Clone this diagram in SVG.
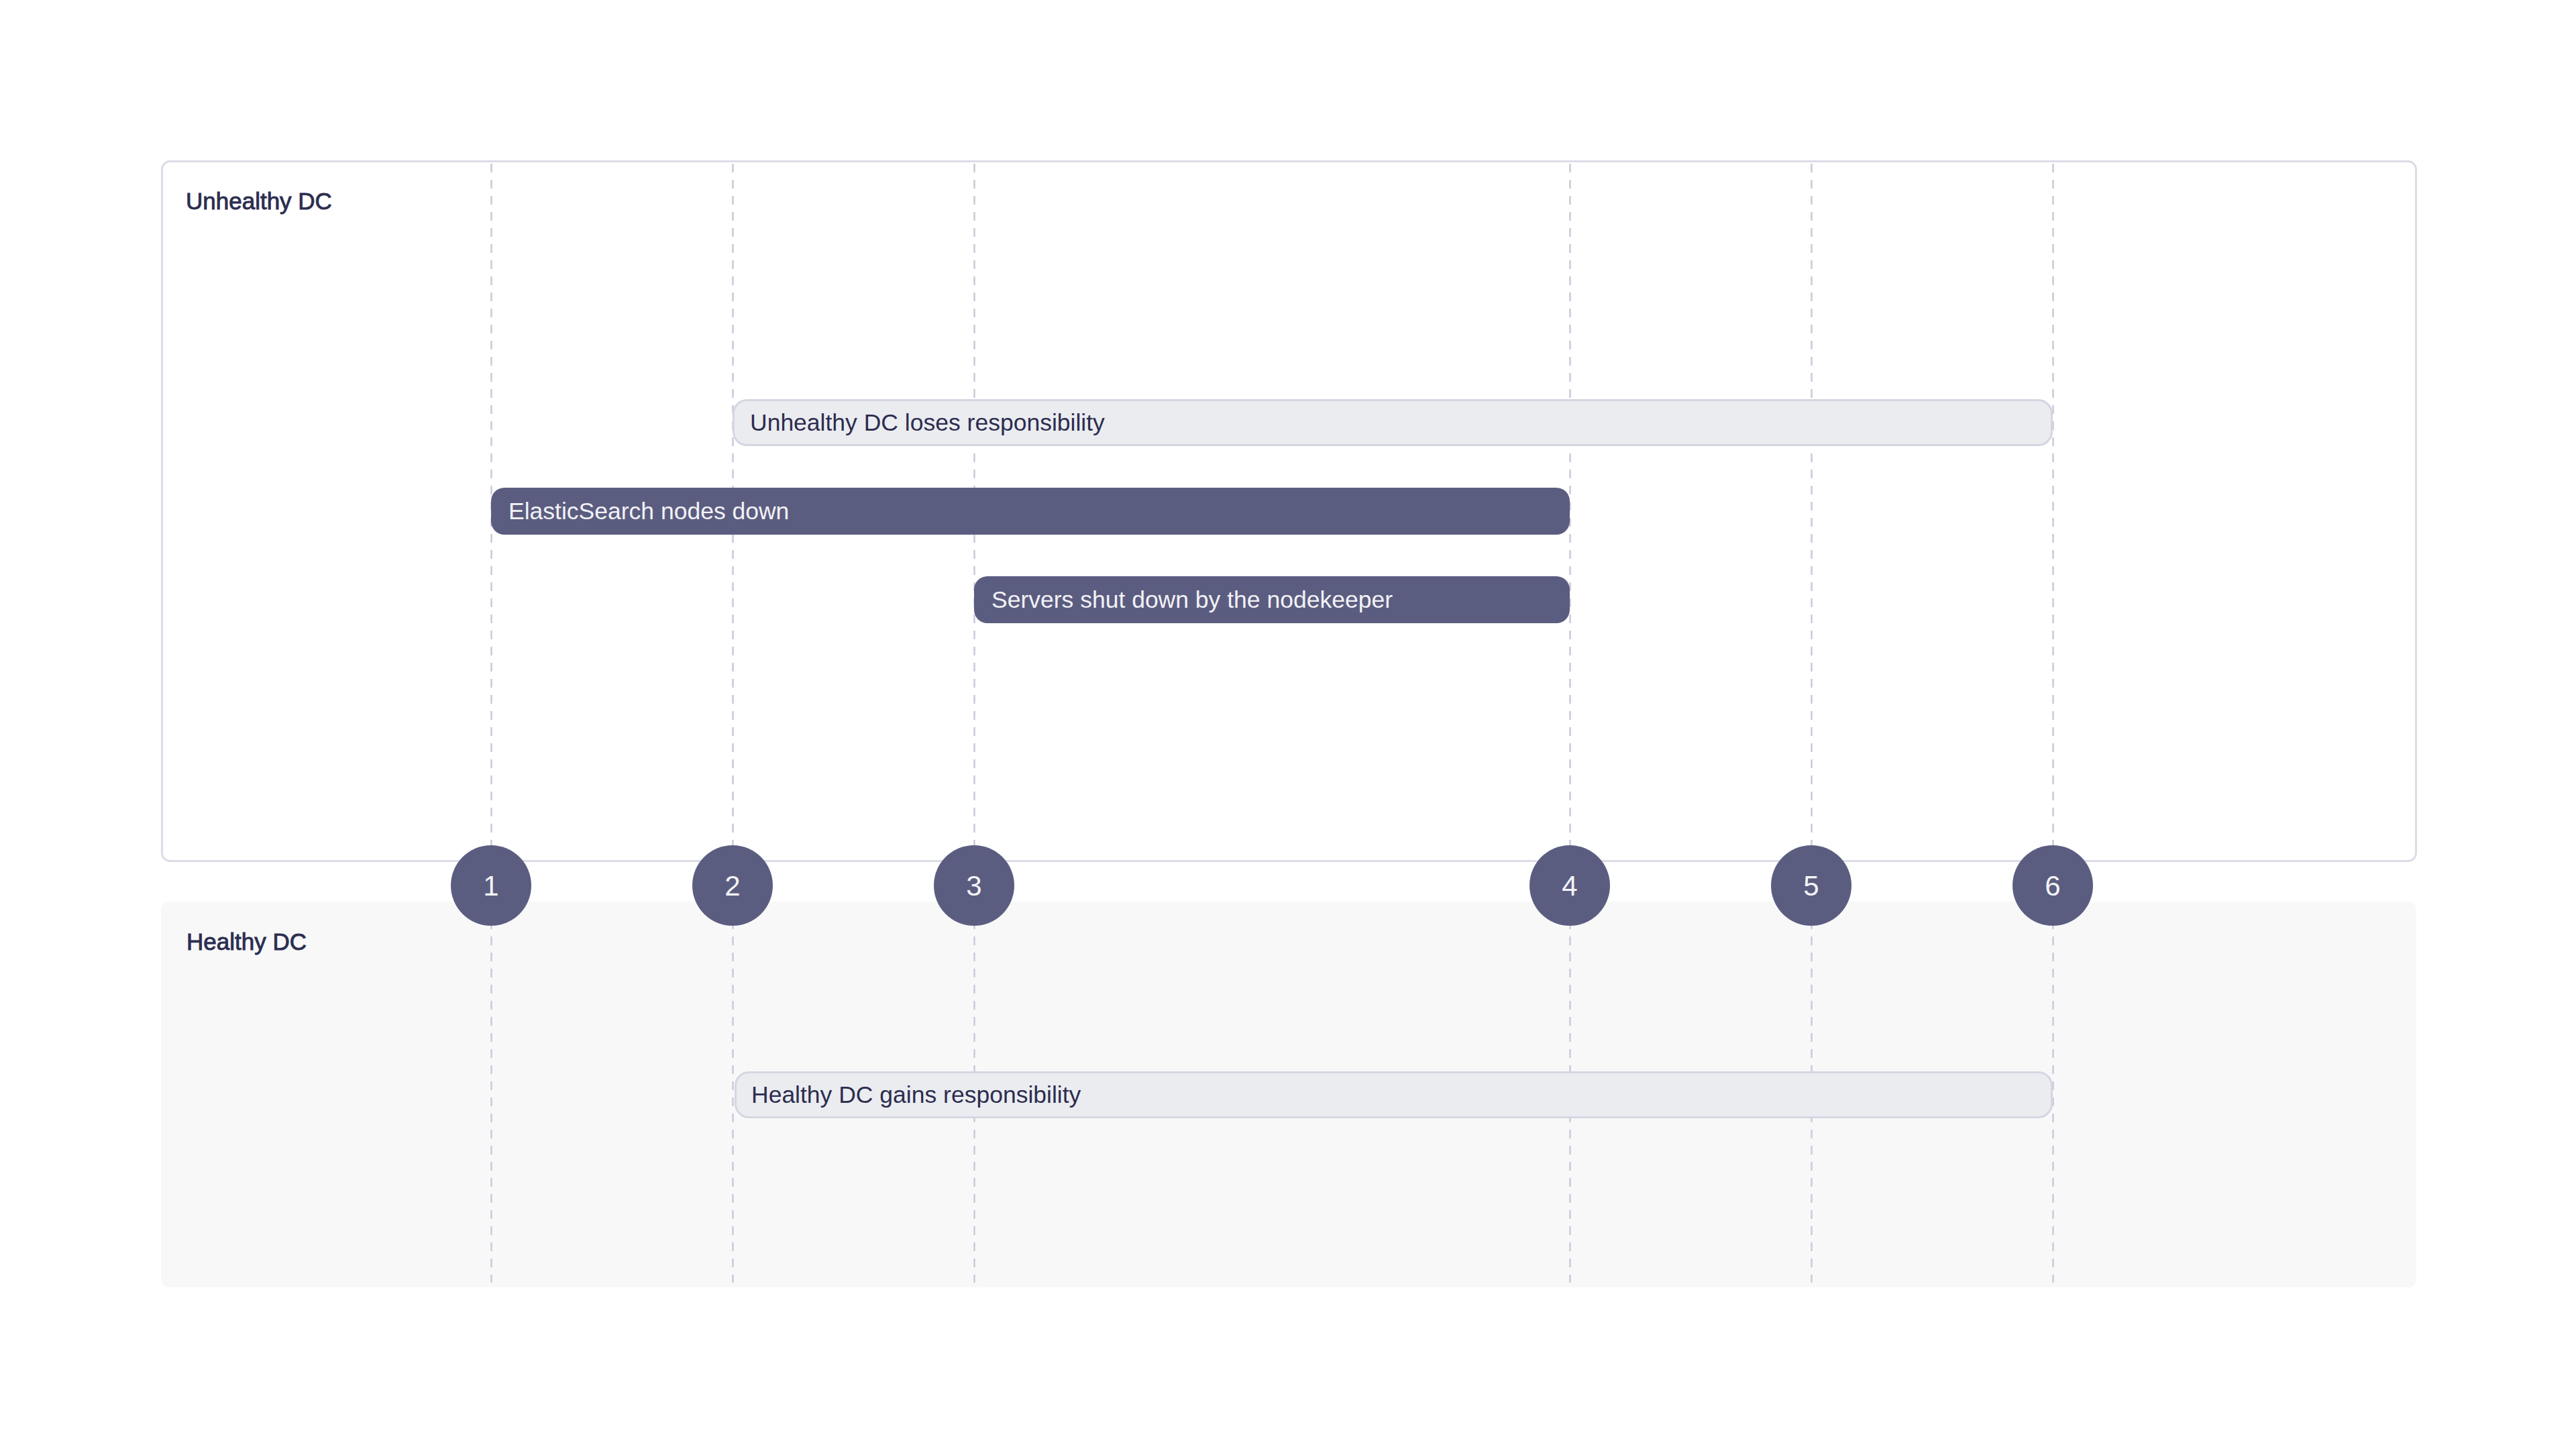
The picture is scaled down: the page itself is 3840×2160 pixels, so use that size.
<svg xmlns="http://www.w3.org/2000/svg" width="3840" height="2160" viewBox="0 0 3840 2160">
<style>
.bg{fill:#ffffff}
.lane-u{fill:#ffffff;stroke:#dcdce7;stroke-width:3}
.lane-h{fill:#f8f8f9}
.title{font-family:"Liberation Sans",Arial,sans-serif;font-size:35px;font-weight:400;fill:#2c2d4f;stroke:#2c2d4f;stroke-width:0.9px}
.guide{stroke:#c9cad9;stroke-width:2.5;stroke-dasharray:13 11;fill:none}
.bar-l{fill:#ebecf0;stroke:#d5d6e2;stroke-width:3}
.bar-d{fill:#5b5d80}
.t-l{font-family:"Liberation Sans",Arial,sans-serif;font-size:35.5px;fill:#2c2d4f}
.t-d{font-family:"Liberation Sans",Arial,sans-serif;font-size:35.5px;fill:#f2f2f7}
.marker{fill:#5b5d80}
.num{font-family:"Liberation Sans",Arial,sans-serif;font-size:42px;fill:#f4f4f8;text-anchor:middle}
</style>
<rect class="bg" x="0" y="0" width="3840" height="2160"/>
<g id="lane-unhealthy">
<rect class="lane-u" x="241.5" y="240.5" width="3360" height="1043" rx="12"/>
<text class="title" x="277" y="312">Unhealthy DC</text>
</g>
<g id="lane-healthy">
<rect class="lane-h" x="240" y="1344" width="3362" height="575" rx="12"/>
<text class="title" x="278" y="1416">Healthy DC</text>
</g>
<g id="connectors">
<line class="guide" x1="732.5" y1="244" x2="732.5" y2="1912"/>
<line class="guide" x1="1092.5" y1="244" x2="1092.5" y2="1912"/>
<line class="guide" x1="1452.5" y1="244" x2="1452.5" y2="1912"/>
<line class="guide" x1="2340.5" y1="244" x2="2340.5" y2="1912"/>
<line class="guide" x1="2700.5" y1="244" x2="2700.5" y2="1912"/>
<line class="guide" x1="3060.5" y1="244" x2="3060.5" y2="1912"/>
</g>
<g id="bar-unhealthy-loses">
<rect class="bar-l" x="1093.5" y="596.5" width="1965" height="67" rx="20"/>
<text class="t-l" x="1118" y="642">Unhealthy DC loses responsibility</text>
</g>
<g id="bar-es-down">
<rect class="bar-d" x="732" y="727" width="1608" height="70" rx="20"/>
<text class="t-d" x="758" y="774">ElasticSearch nodes down</text>
</g>
<g id="bar-servers-shut">
<rect class="bar-d" x="1452" y="859" width="888" height="70" rx="20"/>
<text class="t-d" x="1478" y="906">Servers shut down by the nodekeeper</text>
</g>
<g id="bar-healthy-gains">
<rect class="bar-l" x="1096.5" y="1598.5" width="1962" height="67" rx="20"/>
<text class="t-l" x="1120" y="1644">Healthy DC gains responsibility</text>
</g>
<g id="m1"><circle class="marker" cx="732" cy="1320" r="60"/><text class="num" x="732" y="1335">1</text></g>
<g id="m2"><circle class="marker" cx="1092" cy="1320" r="60"/><text class="num" x="1092" y="1335">2</text></g>
<g id="m3"><circle class="marker" cx="1452" cy="1320" r="60"/><text class="num" x="1452" y="1335">3</text></g>
<g id="m4"><circle class="marker" cx="2340" cy="1320" r="60"/><text class="num" x="2340" y="1335">4</text></g>
<g id="m5"><circle class="marker" cx="2700" cy="1320" r="60"/><text class="num" x="2700" y="1335">5</text></g>
<g id="m6"><circle class="marker" cx="3060" cy="1320" r="60"/><text class="num" x="3060" y="1335">6</text></g>
</svg>
